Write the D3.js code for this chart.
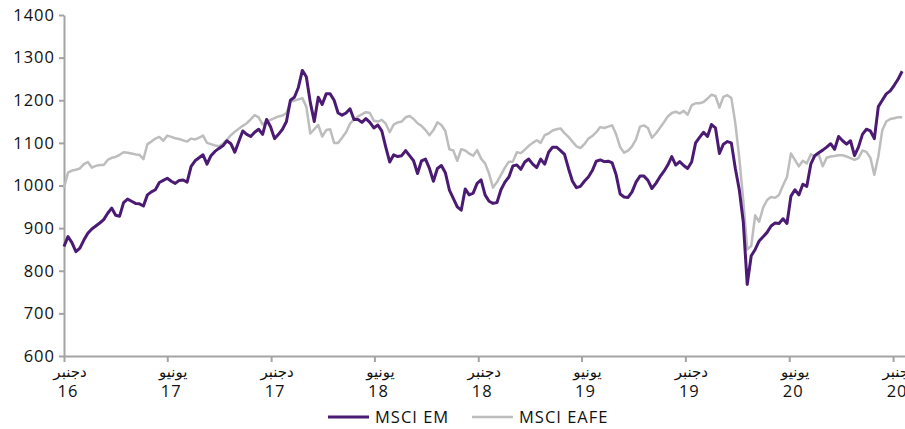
<!DOCTYPE html>
<html><head><meta charset="utf-8">
<script src="https://cdn.jsdelivr.net/npm/d3@7"></script>
<style>
html,body{margin:0;padding:0;background:#fff;}
svg{display:block;}
</style></head>
<body>
<svg id="chart" width="905" height="429"></svg>
<script>
// ---- data (weekly observations starting 2016-12-01) ----
const startDate = "2016-12-01";
const msciEM = [
857,880,866,845,853,872,888,898,905,912,920,935,947,930,928,960,968,963,958,957,
952,978,985,990,1007,1012,1017,1010,1005,1012,1013,1008,1045,1058,1065,1072,1050,1070,1080,1087,
1093,1105,1098,1078,1103,1128,1120,1115,1125,1132,1120,1155,1138,1110,1120,1132,1150,1200,1207,1230,
1270,1255,1195,1150,1207,1190,1215,1215,1200,1170,1165,1170,1180,1155,1155,1148,1157,1148,1135,1142,
1128,1090,1055,1072,1068,1070,1082,1070,1058,1028,1058,1062,1040,1010,1040,1047,1030,990,970,950,
942,992,978,982,1005,1013,978,963,958,960,990,1008,1020,1046,1048,1038,1055,1062,1050,1042,
1062,1050,1078,1090,1090,1082,1073,1040,1010,995,998,1010,1020,1035,1057,1060,1056,1057,1053,1025,
980,973,972,985,1008,1022,1022,1012,993,1005,1020,1033,1048,1068,1048,1056,1047,1040,1055,1100,
1113,1125,1115,1143,1135,1075,1097,1103,1100,1040,990,915,768,835,850,870,880,890,905,912,
911,922,911,975,990,978,1003,998,1050,1070,1077,1083,1090,1098,1085,1115,1105,1097,1105,1070,
1090,1120,1132,1128,1110,1185,1200,1215,1222,1235,1250,1268
];
const msciEAFE = [
994,1030,1035,1037,1040,1050,1055,1042,1046,1048,1048,1060,1065,1067,1072,1078,1077,1075,1073,1072,
1062,1097,1103,1110,1114,1105,1117,1114,1111,1109,1106,1103,1110,1108,1112,1117,1100,1097,1094,1092,
1098,1107,1118,1126,1133,1140,1146,1155,1165,1160,1143,1150,1154,1158,1162,1164,1170,1197,1199,1202,
1205,1185,1122,1132,1142,1115,1130,1132,1100,1100,1112,1125,1145,1155,1162,1167,1172,1170,1152,1150,
1154,1145,1125,1143,1148,1150,1160,1163,1156,1146,1140,1130,1118,1130,1148,1142,1128,1085,1082,1058,
1085,1082,1075,1070,1083,1063,1052,1028,995,1008,1025,1042,1056,1056,1078,1076,1084,1093,1100,1106,
1100,1118,1122,1129,1132,1134,1123,1114,1103,1092,1088,1097,1110,1116,1125,1137,1135,1138,1141,1120,
1090,1077,1082,1092,1108,1138,1141,1135,1112,1122,1135,1148,1162,1170,1173,1169,1175,1166,1188,1193,
1193,1196,1204,1213,1210,1183,1208,1212,1205,1146,1065,965,850,858,930,915,948,966,973,971,
978,1000,1020,1075,1060,1045,1058,1052,1073,1068,1073,1045,1065,1068,1069,1071,1071,1068,1064,1060,
1064,1082,1079,1065,1025,1068,1130,1150,1156,1158,1160,1160
];
const yTicks = [600,700,800,900,1000,1100,1200,1300,1400];
const xTickDates = ["2016-12-01","2017-06-01","2017-12-01","2018-06-01","2018-12-01","2019-06-01","2019-12-01","2020-06-01","2020-12-01"];
const xTickMonths = ["دجنبر","يونيو","دجنبر","يونيو","دجنبر","يونيو","دجنبر","يونيو","دجنبر"];
const xTickYears = ["16","17","17","18","18","19","19","20","20"];
const seriesNames = ["MSCI EM","MSCI EAFE"];
const seriesColors = ["#4b1b74","#bdbdbd"];

// ---- drawing ----
const parse = d3.utcParse("%Y-%m-%d");
const t0 = parse(startDate);
const dates = msciEM.map((_, i) => d3.utcDay.offset(t0, 7 * i));
const svg = d3.select("#chart");
const axisColor = "#a3a3a3";
const font = "'Open Sans', 'DejaVu Sans', sans-serif";

const x = d3.scaleUtc().domain([t0, parse("2020-12-22")]).range([64, 905]);
const y = d3.scaleLinear().domain([600, 1400]).range([356, 15]);

// y axis
const ya = svg.append("g").attr("transform", "translate(64,0)")
  .call(d3.axisLeft(y).tickValues(yTicks).tickFormat(d3.format("d")).tickSize(5).tickSizeOuter(0).tickPadding(6));
ya.select(".domain").attr("stroke", axisColor).attr("stroke-width", 2);
ya.selectAll(".tick line").attr("stroke", axisColor).attr("stroke-width", 2);
ya.selectAll(".tick text").attr("fill", "#111").attr("font-family", font)
  .attr("font-size", "16.5px").attr("letter-spacing", "1px").attr("x", -9);

// x axis
const xa = svg.append("g").attr("transform", "translate(0,356)")
  .call(d3.axisBottom(x).tickValues(xTickDates.map(parse)).tickSize(6).tickSizeOuter(0).tickFormat(""));
xa.select(".domain").attr("stroke", axisColor).attr("stroke-width", 2);
xa.selectAll(".tick line").attr("stroke", axisColor).attr("stroke-width", 2);
xTickDates.forEach((d, i) => {
  const cx = x(parse(d)) + 6;
  svg.append("text").attr("x", cx).attr("y", 377).attr("text-anchor", "middle")
    .attr("font-family", "'DejaVu Sans', sans-serif").attr("font-size", "15px").attr("fill", "#111")
    .attr("direction", "rtl").text(xTickMonths[i]);
  svg.append("text").attr("x", cx - 2).attr("y", 397).attr("text-anchor", "middle")
    .attr("font-family", font).attr("font-size", "16.5px").attr("letter-spacing", "1px").attr("fill", "#111")
    .text(xTickYears[i]);
});

// lines (EAFE beneath, EM on top)
const line = d3.line().x((d, i) => x(dates[i])).y(d => y(d)).curve(d3.curveLinear);
const plot = svg.append("g");
plot.append("path").datum(msciEAFE).attr("d", line).attr("fill", "none")
  .attr("stroke", seriesColors[1]).attr("stroke-width", 2.5).attr("stroke-linejoin", "round");
plot.append("path").datum(msciEM).attr("d", line).attr("fill", "none")
  .attr("stroke", seriesColors[0]).attr("stroke-width", 3).attr("stroke-linejoin", "round");

// legend
const legendX = [328, 472];
seriesNames.forEach((name, i) => {
  const g = svg.append("g").attr("transform", `translate(${legendX[i]},417)`);
  g.append("line").attr("x1", 0).attr("x2", 41).attr("y1", 0).attr("y2", 0)
    .attr("stroke", seriesColors[i]).attr("stroke-width", i === 0 ? 3 : 2.5);
  g.append("text").attr("x", 47).attr("y", 0).attr("dy", "0.35em")
    .attr("font-family", font).attr("font-size", "16.5px").attr("letter-spacing", "1px")
    .attr("fill", "#111").text(name);
});
</script>
</body></html>
